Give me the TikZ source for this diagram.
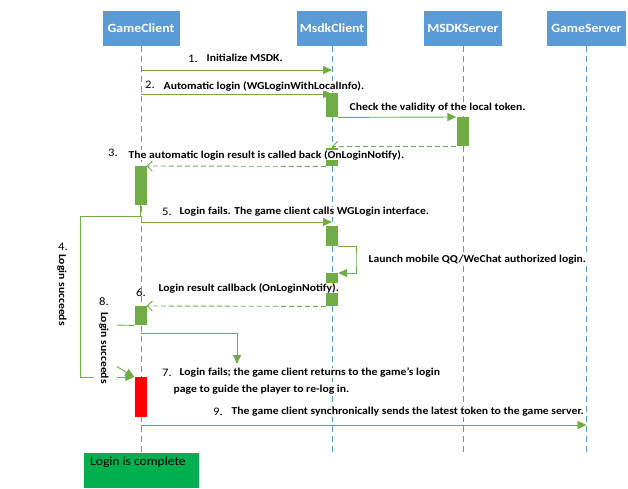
\documentclass[tikz,border=0pt]{standalone}
\usepackage{fontspec}
\setmainfont{Carlito}[FakeStretch=1.1]
\usetikzlibrary{arrows.meta}
\definecolor{hdrblue}{RGB}{91,155,213}
\definecolor{actgreen}{RGB}{112,173,71}
\definecolor{donegreen}{RGB}{0,176,80}

\begin{document}
\begin{tikzpicture}[x=1pt,y=-1pt,>={Triangle[length=9pt,width=8pt]},
    hdr/.style={fill=hdrblue,text=white,font=\bfseries\fontsize{12.5}{14}\selectfont,minimum height=35pt,inner sep=0pt},
    lifeline/.style={hdrblue,dash pattern=on 6pt off 4pt,line width=0.8pt},
    actbar/.style={fill=actgreen,minimum width=12pt,inner sep=0pt,anchor=north},
    msg/.style={actgreen,line width=0.9pt,->},
    ret/.style={actgreen,line width=0.9pt,dash pattern=on 5pt off 3pt,-{Straight Barb[length=5pt,width=10pt]}},
    lbl/.style={anchor=west,fill=white,inner sep=0.5pt,font=\bfseries\fontsize{10.6}{12}\selectfont},
    num/.style={anchor=west,inner sep=0pt,font=\fontsize{11.5}{13}\selectfont}]
    \useasboundingbox (0,0) rectangle (628,488);

    \node[hdr,minimum width=77pt] (gc) at (141,28.5) {GameClient};
    \node[hdr,minimum width=70pt] (mc) at (332,28.5) {MsdkClient};
    \node[hdr,minimum width=78pt] (ms) at (463,28.5) {MSDKServer};
    \node[hdr,minimum width=79pt] (gs) at (586.5,28.5) {GameServer};

    \coordinate (gcend) at (141,453);
    \draw[lifeline] (gc.south) -- (gcend);
    \draw[lifeline] (mc.south) -- (mc.south |- gcend);
    \draw[lifeline] (ms.south) -- (ms.south |- gcend);
    \draw[lifeline] (gs.south) -- (gs.south |- gcend);

    \node[actbar,minimum height=24pt] (mb1) at (332,93) {};
    \node[actbar,minimum height=29pt] (sb1) at (462.5,117) {};
    \node[actbar,minimum height=18pt] (mb2) at (332,148) {};
    \node[actbar,minimum height=39pt] (gb1) at (140.5,166) {};
    \node[actbar,minimum height=20pt] (mb3) at (332,226) {};
    \node[actbar,minimum height=33pt] (mb4) at (332,273) {};
    \node[actbar,minimum height=19pt] (gb2) at (140.5,306) {};
    \node[actbar,fill=red,minimum height=40pt] (rb) at (140.5,377) {};

    \coordinate (s1) at (141,70);
    \draw[msg] (s1) -- (s1 -| mc);
    \coordinate (s2) at (141,94);
    \draw[msg] (s2) -- (s2 -| mc);
    \draw[msg] (mb1.south east) -- (sb1.north west);
    \draw[ret] (sb1.south west) -- (sb1.south west -| mc);
    \draw[ret] (mb2.south west) -- (gb1.north east);

    \coordinate (c4) at (80,216);
    \draw[msg] (gb1.south) |- (c4) |- (rb.north west);
    \coordinate (s5) at (141,222);
    \draw[msg] (s5) -- (s5 -| mc);
    \coordinate (c5) at (356,260);
    \draw[msg] (mb3.south east) -| (c5) |- (mb4.north east);
    \draw[ret] (mb4.south west) -- (gb2.north east);
    \coordinate (c8a) at (116,325);
    \coordinate (c8b) at (116,366);
    \draw[msg] (gb2.south west) -- (c8a) -- (c8b) -- (rb.north west);
    \coordinate (s7) at (141,333);
    \coordinate (e7) at (237,364);
    \draw[msg] (s7) -| (e7);
    \coordinate (s9) at (141,425);
    \draw[msg] (s9) -- (s9 -| gs);

    \node[num] (n1) at (188,59) {1.};
    \node[lbl] (l1) at (206,58) {Initialize MSDK.};
    \node[num] (n2) at (145,85) {2.};
    \node[lbl] (l2) at (163,86) {Automatic login (WGLoginWithLocalInfo).};
    \node[lbl] (lchk) at (349,108) {Check the validity of the local token.};
    \node[num] (n3) at (108,153) {3.};
    \node[lbl] (l3) at (128,155) {The automatic login result is called back (OnLoginNotify).};
    \node[num] (n4) at (58,247) {4.};
    \node[lbl,rotate=-90,anchor=center] (l4) at (62,290) {Login succeeds};
    \node[num] (n5) at (162,212) {5.};
    \node[lbl] (l5) at (179,212) {Login fails. The game client calls WGLogin interface.};
    \node[lbl] (lqq) at (368,260) {Launch mobile QQ/WeChat authorized login.};
    \node[lbl] (l6) at (158,288) {Login result callback (OnLoginNotify).};
    \node[num] (n6) at (136,293) {6.};
    \node[fill=white,minimum width=23pt,minimum height=96pt,inner sep=0pt] (box8) at (105.5,344) {};
    \node[num] (n8) at (99,302) {8.};
    \node[lbl,rotate=-90,anchor=center] (l8) at (104,348) {Login succeeds};
    \node[num] (n7) at (162,373) {7.};
    \node[lbl] (l7a) at (179,373) {Login fails; the game client returns to the game's login};
    \node[lbl] (l7b) at (173,390) {page to guide the player to re-log in.};
    \node[num] (n9) at (213,412) {9.};
    \node[lbl] (l9) at (231,412) {The game client synchronically sends the latest token to the game server.};

    \node[fill=donegreen,minimum width=115pt,minimum height=35pt,inner sep=0pt,anchor=north west] (done) at (84,453) {};
    \node[anchor=west,inner sep=0pt,font=\fontsize{12.3}{14}\selectfont] (donetxt) at (90,462) {Login is complete};
\end{tikzpicture}
\end{document}
